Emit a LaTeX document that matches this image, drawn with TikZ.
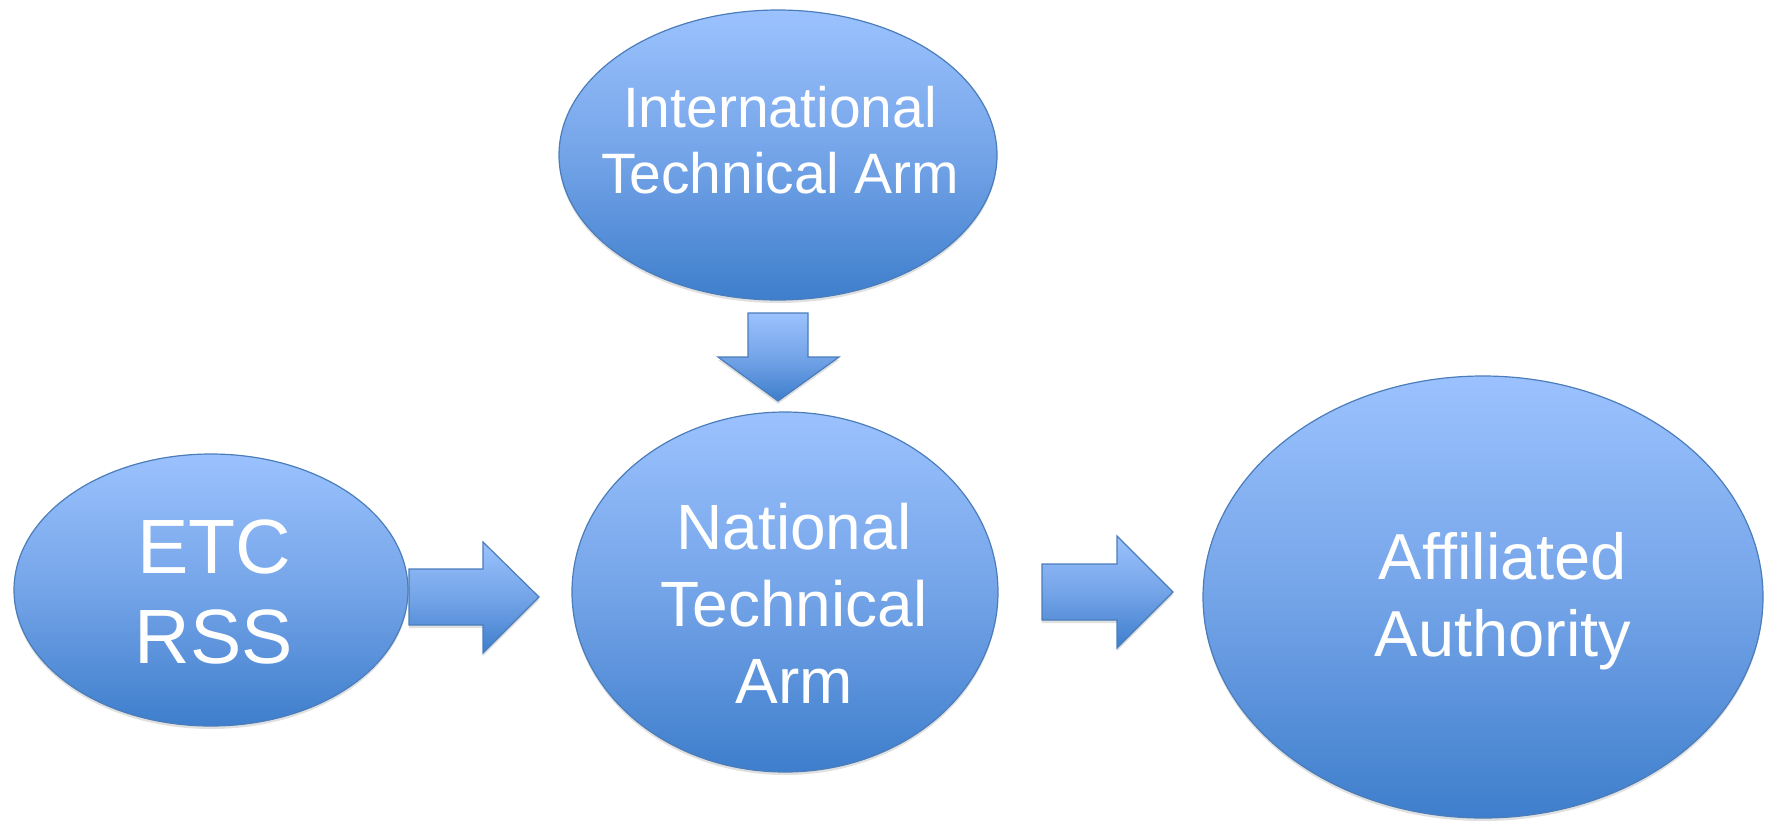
\documentclass[tikz,border=0pt]{standalone}
\usepackage{fontspec}
\setmainfont{Liberation Sans}
\usetikzlibrary{positioning,calc,shapes.geometric,shadows}

\definecolor{armtop}{HTML}{9BC2FE}
\definecolor{armmid}{HTML}{74A4E8}
\definecolor{armbottom}{HTML}{3E7ECC}
\definecolor{armline}{HTML}{4A7DBA}

\begin{document}
\begin{tikzpicture}[x=1pt, y=-1pt,
		armfill/.style={draw=armline, line width=1.2pt, top color=armtop, bottom color=armbottom, middle color=armmid,
			drop shadow={shadow xshift=0pt, shadow yshift=-3pt, opacity=0.12, fill=black}},
		bubble/.style={armfill, ellipse, inner sep=0pt},
		bubbletext/.style={text=white, align=center, inner sep=0pt},
		blockarrow/.style={armfill, line join=miter},
		]
		\useasboundingbox (0,0) rectangle (1771,820);
		
		% bubbles
		\node[bubble, minimum width=438pt, minimum height=290pt] (intl) at (778,155) {};
		\node[bubble, minimum width=394pt, minimum height=272pt] (etc) at (211,590) {};
		\node[bubble, minimum width=426pt, minimum height=360pt] (natl) at (785,592) {};
		\node[bubble, minimum width=560pt, minimum height=442pt] (affil) at (1483,597) {};
		
		% texts
		\node[bubbletext, font=\fontsize{57}{66}\selectfont] (intltext) at ($(intl.center)+(2,-15)$) {International\\Technical Arm};
		\node[bubbletext, font=\fontsize{77}{90}\selectfont] (etctext) at ($(etc.center)+(3,2)$) {ETC\\RSS};
		\node[bubbletext, font=\fontsize{64}{77}\selectfont] (natltext) at ($(natl.center)+(9,11)$) {National\\Technical\\Arm};
		\node[bubbletext, font=\fontsize{65}{77}\selectfont] (affiltext) at ($(affil.center)+(20,4)$) {Affiliated\\Authority};
		
		% arrows
		\path[blockarrow] (748,313) -- (808,313) -- (808,357) -- (839,357) -- (778,401) -- (718,357) -- (748,357) -- cycle;
		\path[blockarrow] (409,569) -- (483,569) -- (483,542) -- (539,597) -- (483,653) -- (483,625) -- (409,625) -- cycle;
		\path[blockarrow] (1042,564) -- (1117,564) -- (1117,536) -- (1173,592) -- (1117,648) -- (1117,620) -- (1042,620) -- cycle;
	\end{tikzpicture}
\end{document}
